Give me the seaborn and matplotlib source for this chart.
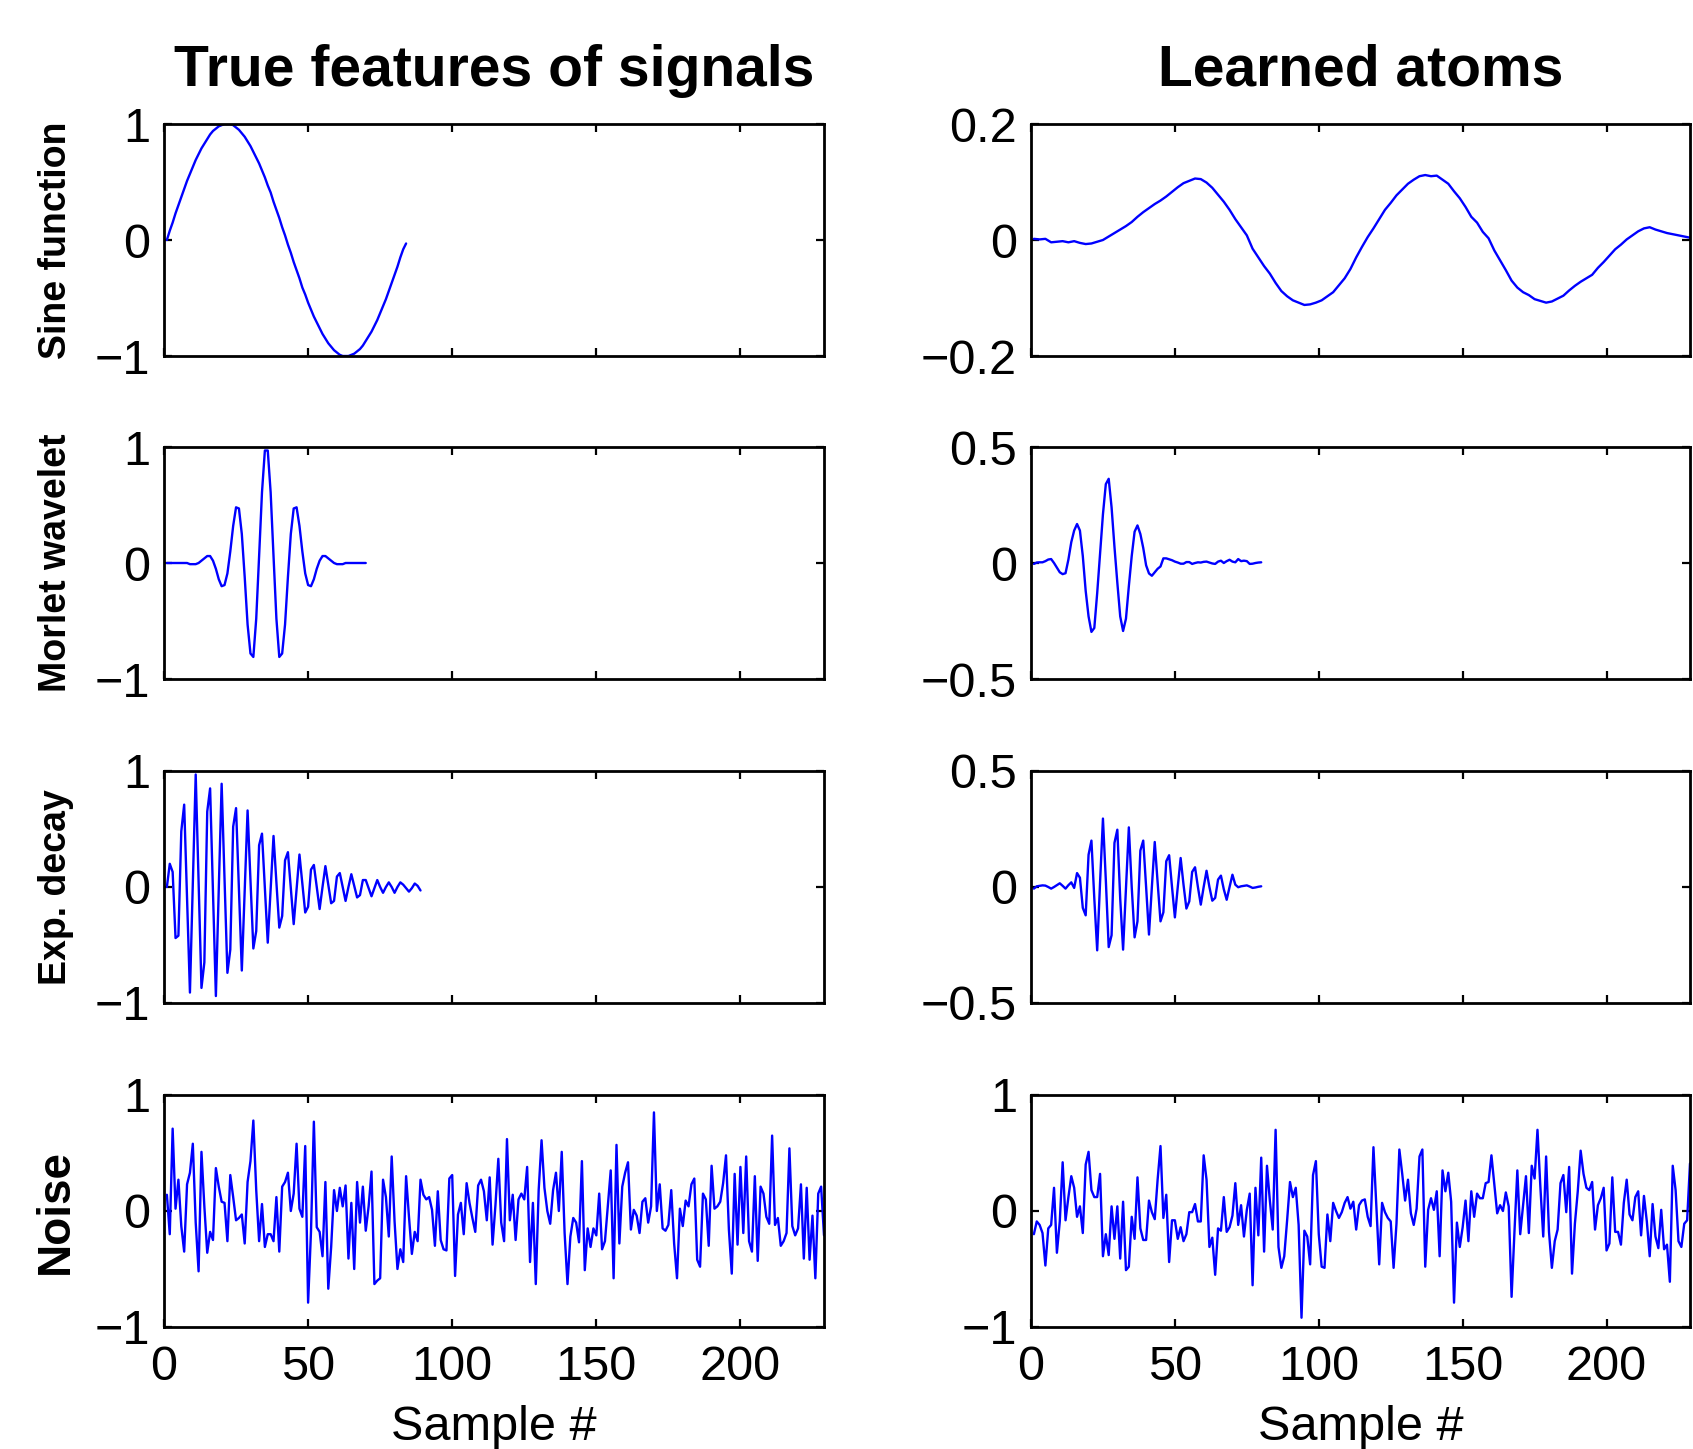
import numpy as np
import matplotlib
matplotlib.use("Agg")
import matplotlib.pyplot as plt
import seaborn as sns

# ---------------- data ----------------
col_titles = ["True features of signals", "Learned atoms"]
row_labels = ["Sine function", "Morlet wavelet", "Exp. decay", "Noise"]
x_label = "Sample #"
x_ticks = [0, 50, 100, 150, 200]
x_tick_labels = ["0", "50", "100", "150", "200"]
left_yticks = [[-1, 0, 1]] * 4
left_ytick_labels = [["\u22121", "0", "1"]] * 4
right_yticks = [[-0.2, 0, 0.2], [-0.5, 0, 0.5], [-0.5, 0, 0.5], [-1, 0, 1]]
right_ytick_labels = [["\u22120.2", "0", "0.2"], ["\u22120.5", "0", "0.5"],
                      ["\u22120.5", "0", "0.5"], ["\u22121", "0", "1"]]

true_sine = [0.00, 0.08, 0.15, 0.23, 0.30, 0.37, 0.44, 0.51, 0.57, 0.63, 0.69, 0.74, 0.79, 0.83,
             0.87, 0.91, 0.94, 0.96, 0.98, 0.99, 1.00, 1.00, 1.00, 0.99, 0.97, 0.95, 0.92, 0.89,
             0.85, 0.81, 0.76, 0.71, 0.66, 0.60, 0.54, 0.47, 0.41, 0.33, 0.26, 0.19, 0.11, 0.04,
             -0.04, -0.11, -0.19, -0.26, -0.33, -0.41, -0.47, -0.54, -0.60, -0.66, -0.71, -0.76,
             -0.81, -0.85, -0.89, -0.92, -0.95, -0.97, -0.99, -1.00, -1.00, -1.00, -0.99, -0.98,
             -0.96, -0.94, -0.91, -0.87, -0.83, -0.79, -0.74, -0.69, -0.63, -0.57, -0.51, -0.44,
             -0.37, -0.30, -0.23, -0.15, -0.08, -0.03]

true_morlet = [0.00, 0.00, 0.00, 0.00, 0.00, 0.00, 0.00, 0.00, -0.01, -0.01, -0.01, 0.00, 0.02,
               0.04, 0.06, 0.06, 0.02, -0.05, -0.14, -0.20, -0.19, -0.09, 0.10, 0.32, 0.48, 0.47,
               0.25, -0.12, -0.53, -0.78, -0.81, -0.48, 0.06, 0.61, 0.97, 0.97, 0.61, 0.06, -0.48,
               -0.81, -0.78, -0.53, -0.12, 0.25, 0.47, 0.48, 0.32, 0.10, -0.09, -0.19, -0.20, -0.14,
               -0.05, 0.02, 0.06, 0.06, 0.04, 0.02, 0.00, -0.01, -0.01, -0.01, 0.00, 0.00, 0.00,
               0.00, 0.00, 0.00, 0.00, 0.00]

true_decay = [0.00, 0.20, 0.13, -0.44, -0.42, 0.48, 0.71, -0.10, -0.91, 0.03,
              0.97, 0.05, -0.87, -0.65, 0.65, 0.85, -0.05, -0.94, -0.02, 0.89,
              0.07, -0.74, -0.54, 0.52, 0.68, -0.02, -0.72, -0.03, 0.66, 0.06,
              -0.53, -0.38, 0.36, 0.46, -0.01, -0.48, -0.02, 0.44, 0.04, -0.35,
              -0.25, 0.23, 0.30, -0.01, -0.32, -0.02, 0.28, 0.03, -0.22, -0.17,
              0.15, 0.19, 0.00, -0.19, 0.00, 0.18, 0.02, -0.14, -0.12, 0.09,
              0.12, 0.00, -0.12, 0.00, 0.11, 0.01, -0.09, -0.07, 0.06, 0.06,
              -0.01, -0.08, -0.01, 0.06, 0.00, -0.05, 0.00, 0.04, 0.00, -0.05,
              0.00, 0.04, 0.02, -0.01, -0.04, -0.01, 0.03, 0.01, -0.03]

true_noise = [0.14, -0.20, 0.71, 0.02, 0.27, -0.13, -0.35, 0.23, 0.33, 0.58,
              -0.10, -0.52, 0.51, 0.04, -0.36, -0.18, -0.25, 0.37, 0.21, 0.08,
              0.07, -0.26, 0.31, 0.12, -0.08, -0.06, -0.03, -0.28, 0.25, 0.43,
              0.78, 0.18, -0.26, 0.06, -0.31, -0.20, -0.20, -0.26, 0.12, -0.35,
              0.21, 0.25, 0.33, 0.00, 0.15, 0.58, 0.02, -0.05, 0.56, -0.79,
              -0.18, 0.77, -0.14, -0.18, -0.39, 0.25, -0.67, -0.31, 0.18, 0.00,
              0.20, 0.04, 0.22, -0.41, 0.07, -0.50, 0.25, -0.10, 0.21, -0.17,
              0.04, 0.34, -0.63, -0.60, -0.58, 0.27, 0.12, -0.22, 0.47, -0.09,
              -0.50, -0.33, -0.44, 0.30, -0.05, -0.37, -0.18, -0.26, 0.27, 0.14,
              0.10, 0.12, 0.01, -0.30, 0.17, -0.25, -0.33, -0.34, 0.28, 0.31,
              -0.56, -0.03, 0.07, -0.20, 0.24, 0.07, -0.06, -0.18, 0.22, 0.27,
              0.17, -0.08, 0.29, -0.29, 0.05, 0.45, -0.10, -0.26, 0.62, -0.08,
              0.14, -0.25, 0.10, 0.15, 0.10, 0.38, -0.44, 0.07, -0.63, 0.18,
              0.61, 0.20, 0.00, -0.11, 0.18, 0.33, 0.00, 0.51, -0.19, -0.63,
              -0.22, -0.06, -0.10, -0.27, 0.43, -0.51, -0.15, -0.31, -0.15, -0.21,
              0.15, -0.33, -0.26, 0.04, 0.35, -0.58, 0.57, -0.28, 0.21, 0.33,
              0.42, -0.16, 0.01, -0.04, -0.19, 0.08, 0.11, -0.10, 0.04, 0.85,
              0.00, 0.23, -0.15, -0.17, -0.12, 0.18, -0.28, -0.58, 0.02, -0.13,
              0.09, 0.04, 0.23, 0.28, -0.42, -0.48, 0.15, 0.10, -0.30, 0.39,
              0.02, 0.04, 0.08, 0.24, 0.48, -0.16, -0.54, 0.32, -0.29, 0.38,
              -0.19, 0.47, -0.26, -0.35, 0.30, -0.43, 0.21, 0.15, -0.05, -0.11,
              0.65, -0.12, -0.06, -0.30, -0.26, -0.19, 0.54, -0.13, -0.21, -0.15,
              0.23, -0.41, 0.20, -0.42, -0.04, -0.58, 0.15, 0.21, -0.21]

# learned sine-like atom, read every second sample (x = 1, 3, ..., 229)
learned_sine = [0.002, 0.001, 0.002, -0.004, -0.003, -0.002, -0.004, -0.002, -0.005, -0.007,
                -0.006, -0.003, 0.000, 0.006, 0.012, 0.018, 0.024, 0.031, 0.040, 0.048,
                0.055, 0.062, 0.068, 0.075, 0.083, 0.091, 0.098, 0.102, 0.106, 0.105,
                0.099, 0.090, 0.078, 0.066, 0.052, 0.036, 0.022, 0.008, -0.015, -0.030,
                -0.045, -0.058, -0.074, -0.088, -0.097, -0.104, -0.108, -0.112, -0.111, -0.108,
                -0.104, -0.097, -0.090, -0.078, -0.066, -0.050, -0.030, -0.012, 0.005, 0.020,
                0.036, 0.052, 0.064, 0.077, 0.087, 0.097, 0.104, 0.110, 0.112, 0.110,
                0.111, 0.104, 0.097, 0.084, 0.072, 0.057, 0.040, 0.030, 0.014, 0.003,
                -0.018, -0.035, -0.052, -0.070, -0.082, -0.090, -0.095, -0.102, -0.105, -0.108,
                -0.106, -0.101, -0.096, -0.087, -0.079, -0.072, -0.066, -0.060, -0.048, -0.038,
                -0.027, -0.016, -0.008, 0.001, 0.008, 0.015, 0.020, 0.022, 0.018, 0.015,
                0.012, 0.010, 0.008, 0.006, 0.004]

learned_morlet = [-0.004, 0.002, 0.003, 0.003, 0.008, 0.015, 0.017, 0.000, -0.020, -0.040,
                  -0.048, -0.044, 0.015, 0.090, 0.140, 0.168, 0.140, 0.030, -0.120, -0.230,
                  -0.297, -0.280, -0.130, 0.040, 0.210, 0.340, 0.363, 0.240, 0.070, -0.085,
                  -0.230, -0.293, -0.240, -0.100, 0.030, 0.135, 0.162, 0.125, 0.065, -0.010,
                  -0.045, -0.055, -0.040, -0.025, -0.015, 0.020, 0.020, 0.016, 0.012, 0.006,
                  0.002, -0.003, -0.003, 0.004, 0.004, -0.004, 0.000, 0.003, 0.002, 0.005,
                  0.006, 0.002, -0.002, -0.004, 0.006, 0.010, 0.000, 0.008, 0.014, 0.006,
                  0.003, 0.017, 0.008, 0.010, 0.008, -0.004, -0.003, 0.000, 0.002, 0.003]

learned_decay = [-0.007, 0.003, 0.005, 0.007, 0.006, 0.000, -0.007, 0.000, 0.008, 0.016,
                 0.005, -0.007, 0.008, 0.020, -0.004, 0.060, 0.040, -0.090, -0.122, 0.139,
                 0.200, -0.050, -0.273, 0.020, 0.295, 0.030, -0.259, -0.208, 0.190, 0.247,
                 -0.050, -0.270, -0.006, 0.257, 0.000, -0.217, -0.148, 0.157, 0.200, 0.000,
                 -0.205, 0.000, 0.194, 0.020, -0.148, -0.109, 0.111, 0.137, 0.000, -0.131,
                 0.000, 0.125, 0.010, -0.093, -0.062, 0.065, 0.085, 0.000, -0.076, 0.000,
                 0.070, 0.000, -0.059, -0.047, 0.032, 0.049, -0.010, -0.055, 0.000, 0.053,
                 0.010, -0.001, 0.003, 0.005, 0.007, 0.002, -0.004, -0.002, 0.001, 0.003]

learned_noise = [-0.20, -0.09, -0.12, -0.19, -0.47, -0.15, -0.12, 0.20, -0.36, -0.09,
                 0.42, -0.08, 0.12, 0.30, 0.20, -0.05, 0.04, -0.19, 0.40, 0.51,
                 0.18, 0.12, 0.12, 0.32, -0.39, -0.20, -0.38, 0.04, -0.24, 0.04,
                 -0.41, 0.08, -0.51, -0.48, -0.05, -0.24, 0.29, -0.15, -0.25, -0.25,
                 0.09, -0.01, -0.07, 0.27, 0.56, -0.06, 0.14, -0.44, -0.08, -0.08,
                 -0.24, -0.14, -0.26, -0.20, -0.01, -0.01, 0.06, -0.09, -0.09, 0.48,
                 0.27, -0.31, -0.23, -0.55, -0.15, -0.17, 0.12, -0.18, -0.14, -0.04,
                 0.24, -0.12, 0.05, -0.22, 0.01, 0.15, -0.64, 0.20, -0.21, 0.46,
                 -0.35, 0.39, 0.09, -0.16, 0.70, -0.31, -0.49, -0.39, -0.08, 0.25,
                 0.12, 0.20, -0.12, -0.92, -0.17, -0.22, -0.46, 0.31, 0.43, -0.20,
                 -0.48, -0.49, -0.03, -0.26, 0.07, 0.00, -0.06, -0.01, 0.07, 0.12,
                 0.02, 0.08, -0.16, 0.05, 0.09, 0.10, -0.05, -0.13, 0.55, 0.05,
                 -0.46, 0.07, -0.01, -0.06, -0.09, -0.49, -0.11, 0.53, 0.32, 0.09,
                 0.27, -0.02, -0.12, 0.02, 0.47, 0.53, -0.48, 0.01, 0.11, 0.01,
                 0.17, -0.39, 0.35, 0.17, 0.33, 0.08, -0.79, -0.10, -0.31, -0.14,
                 0.09, -0.26, 0.17, -0.05, 0.15, 0.11, 0.11, 0.24, 0.25, 0.48,
                 0.23, -0.02, 0.05, 0.00, 0.16, 0.04, -0.74, -0.18, 0.35, -0.20,
                 0.05, 0.30, -0.19, 0.39, 0.28, 0.70, 0.21, -0.22, 0.47, -0.18,
                 -0.49, -0.26, -0.16, 0.24, 0.31, -0.01, 0.38, -0.54, -0.11, 0.17,
                 0.52, 0.32, 0.20, 0.18, 0.25, -0.16, 0.05, 0.11, 0.20, -0.34,
                 -0.28, 0.29, -0.18, -0.18, -0.29, 0.07, 0.27, -0.03, -0.08, 0.12,
                 0.17, -0.21, 0.13, -0.09, -0.39, 0.06, -0.22, -0.32, 0.01, -0.33,
                 -0.29, -0.61, 0.39, 0.18, -0.26, -0.31, -0.11, -0.08, 0.41, 0.22]

left_series = [true_sine, true_morlet, true_decay, true_noise]
right_series = [learned_sine, learned_morlet, learned_decay, learned_noise]
right_steps = [2, 1, 1, 1]

# ---------------- style ----------------
sns.set_style("white")
plt.rcParams["font.family"] = ["Liberation Sans", "DejaVu Sans"]
plt.rcParams["axes.unicode_minus"] = True
for key in ["text.color", "axes.labelcolor", "xtick.color", "ytick.color", "axes.edgecolor"]:
    plt.rcParams[key] = "black"
LINE_COLOR = "#0000FF"
TICK_SIZE = 35

fig = plt.figure(figsize=(16.93, 14.49), dpi=100)
W, H = 1693.0, 1449.0
col_left = [164 / W, 1031 / W]
col_width = [660 / W, 659 / W]
row_top_px = [124, 447, 771, 1095]
ax_h_px = 232

def style_axes(ax, yticks, ylabels, show_x):
    ax.set_xlim(0, 229)
    ax.set_ylim(yticks[0], yticks[-1])
    ax.set_xticks(x_ticks)
    ax.set_yticks(yticks)
    ax.set_yticklabels(ylabels, fontsize=TICK_SIZE, color="black")
    if show_x:
        ax.set_xticklabels(x_tick_labels, fontsize=TICK_SIZE, color="black")
    else:
        ax.set_xticklabels([])
    ax.tick_params(direction="in", length=6, width=1.6, colors="black",
                   top=True, right=True, bottom=True, left=True)
    ax.tick_params(axis="x", pad=13)
    ax.tick_params(axis="y", pad=10)
    for sp in ax.spines.values():
        sp.set_visible(True)
        sp.set_color("black")
        sp.set_linewidth(2.0)
    ax.set_xlabel("")
    ax.set_ylabel("")
    ax.grid(False)

for r in range(4):
    bottom = 1 - (row_top_px[r] + ax_h_px) / H
    height = ax_h_px / H
    # left column: true features
    axl = fig.add_axes([col_left[0], bottom, col_width[0], height])
    yl = left_series[r]
    sns.lineplot(x=np.arange(1, len(yl) + 1), y=yl, ax=axl, color=LINE_COLOR,
                 linewidth=1.7, estimator=None, sort=False)
    style_axes(axl, left_yticks[r], left_ytick_labels[r], r == 3)
    # right column: learned atoms
    axr = fig.add_axes([col_left[1], bottom, col_width[1], height])
    yr = right_series[r]
    xr = np.arange(len(yr)) * right_steps[r] + 1
    sns.lineplot(x=xr, y=yr, ax=axr, color=LINE_COLOR,
                 linewidth=1.7, estimator=None, sort=False)
    style_axes(axr, right_yticks[r], right_ytick_labels[r], r == 3)
    # row label
    yc = 1 - (row_top_px[r] + ax_h_px / 2) / H
    fig.text(56 / W, yc, row_labels[r], rotation=90, ha="center", va="center",
             fontweight="bold", fontsize=33 if r == 3 else 27, color="black")

# column titles and x labels
for c in range(2):
    xc = col_left[c] + col_width[c] / 2
    fig.text(xc, 1 - 86 / H, col_titles[c], ha="center", va="baseline",
             fontweight="bold", fontsize=41, color="black")
    fig.text(xc, 1 - 1440 / H, x_label, ha="center", va="baseline", fontsize=35,
             color="black")

fig.savefig("out.png", dpi=100)
